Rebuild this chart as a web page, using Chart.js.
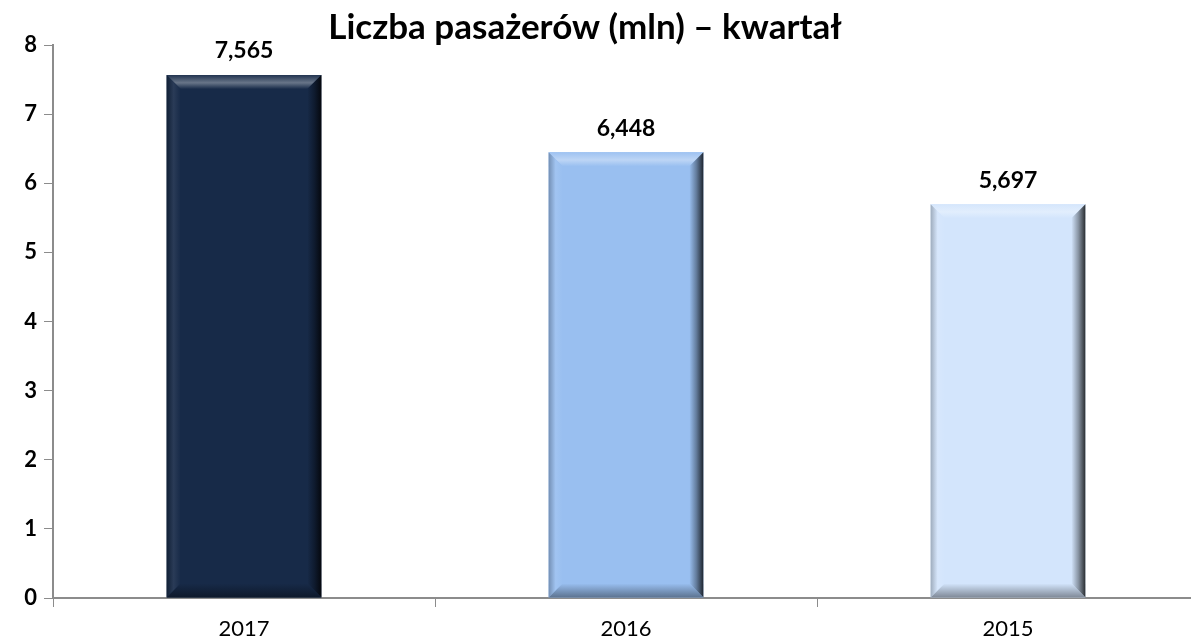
<!DOCTYPE html>
<html>
<head>
<meta charset="utf-8">
<script src="https://cdn.jsdelivr.net/npm/chart.js@4"></script>
<style>
  body { margin: 0; background: #fff; overflow: hidden; }
  #wrap { width: 1191px; height: 641px; overflow: hidden; }
</style>
</head>
<body>
<div id="wrap"><canvas id="pasazerowie" width="1200" height="641"></canvas></div>
<script>
const years = ["2017", "2016", "2015"];
const passengers = [7.565, 6.448, 5.697];
const barColors = ["#172a48", "#99bff0", "#d3e5fc"];
const yTicks = [0, 1, 2, 3, 4, 5, 6, 7, 8];
const chartTitle = "Liczba pasażerów (mln) – kwartał";

const FONT = "Lato, 'Open Sans', sans-serif";

// shade helper: mix colour with white (amt > 0) or black (amt < 0)
const shade = (hex, amt) => {
  const n = parseInt(hex.slice(1), 16);
  let r = n >> 16, g = (n >> 8) & 255, b = n & 255;
  const t = amt > 0 ? 255 : 0, p = Math.abs(amt);
  r = Math.round(r + (t - r) * p);
  g = Math.round(g + (t - g) * p);
  b = Math.round(b + (t - b) * p);
  return `rgb(${r},${g},${b})`;
};

const bevelPlugin = {
  id: "bevel",
  afterDatasetsDraw(chart) {
    const ctx = chart.ctx;
    const meta = chart.getDatasetMeta(0);
    meta.data.forEach((bar, i) => {
      const col = barColors[i];
      const l = bar.x - bar.width / 2, r = bar.x + bar.width / 2;
      const t = bar.y, bot = bar.base;
      const b = 14;
      ctx.save();
      // top bevel
      let g = ctx.createLinearGradient(0, t, 0, t + b);
      g.addColorStop(0, shade(col, 0.05));
      g.addColorStop(0.55, shade(col, 0.35));
      g.addColorStop(1, col);
      ctx.fillStyle = g;
      ctx.beginPath();
      ctx.moveTo(l, t); ctx.lineTo(r, t); ctx.lineTo(r - b, t + b); ctx.lineTo(l + b, t + b);
      ctx.closePath(); ctx.fill();
      // left bevel
      g = ctx.createLinearGradient(l, 0, l + b, 0);
      g.addColorStop(0, shade(col, -0.25));
      g.addColorStop(0.5, shade(col, 0.08));
      g.addColorStop(1, col);
      ctx.fillStyle = g;
      ctx.beginPath();
      ctx.moveTo(l, t); ctx.lineTo(l + b, t + b); ctx.lineTo(l + b, bot - b); ctx.lineTo(l, bot);
      ctx.closePath(); ctx.fill();
      // right bevel
      g = ctx.createLinearGradient(r - b, 0, r, 0);
      g.addColorStop(0, col);
      g.addColorStop(0.5, shade(col, -0.35));
      g.addColorStop(1, shade(col, -0.8));
      ctx.fillStyle = g;
      ctx.beginPath();
      ctx.moveTo(r, t); ctx.lineTo(r, bot); ctx.lineTo(r - b, bot - b); ctx.lineTo(r - b, t + b);
      ctx.closePath(); ctx.fill();
      // bottom bevel
      g = ctx.createLinearGradient(0, bot - b, 0, bot);
      g.addColorStop(0, col);
      g.addColorStop(1, shade(col, -0.4));
      ctx.fillStyle = g;
      ctx.beginPath();
      ctx.moveTo(l, bot); ctx.lineTo(r, bot); ctx.lineTo(r - b, bot - b); ctx.lineTo(l + b, bot - b);
      ctx.closePath(); ctx.fill();
      ctx.restore();
    });
  },
};

const labelPlugin = {
  id: "labels",
  afterDraw(chart) {
    const ctx = chart.ctx;
    ctx.save();
    ctx.fillStyle = "#000";
    ctx.textAlign = "center";
    ctx.textBaseline = "middle";
    ctx.font = `bold 23px ${FONT}`;
    chart.getDatasetMeta(0).data.forEach((bar, i) => {
      ctx.fillText(passengers[i].toFixed(3).replace(".", ","), bar.x, bar.y - 24);
    });
    ctx.font = `bold 35px ${FONT}`;
    ctx.fillText(chartTitle, 585, 28);
    ctx.restore();
  },
};

new Chart(document.getElementById("pasazerowie"), {
  type: "bar",
  data: {
    labels: years,
    datasets: [{
      data: passengers,
      backgroundColor: barColors,
      borderWidth: 0,
      barPercentage: 0.405,
      categoryPercentage: 1,
    }],
  },
  options: {
    responsive: false,
    animation: false,
    layout: { padding: { top: 45, right: 1, left: 0, bottom: 0 } },
    plugins: { legend: { display: false }, tooltip: { enabled: false }, title: { display: false } },
    scales: {
      x: {
        grid: { offset: true, drawOnChartArea: false, color: "#8c8c8c", tickLength: 9 },
        border: { color: "#8c8c8c", width: 2 },
        ticks: { color: "#000", font: { family: FONT, size: 22 }, padding: 9 },
        afterFit: (s) => { s.height = 43; },
      },
      y: {
        min: 0, max: 8,
        afterBuildTicks: (s) => { s.ticks = yTicks.map((v) => ({ value: v })); },
        grid: { drawOnChartArea: false, color: "#8c8c8c", tickLength: 9 },
        border: { color: "#8c8c8c", width: 2 },
        ticks: { color: "#000", font: { family: FONT, size: 22, weight: "bold" }, padding: 7 },
        afterFit: (s) => { s.width = 53; },
      },
    },
  },
  plugins: [bevelPlugin, labelPlugin],
});
</script>
</body>
</html>
